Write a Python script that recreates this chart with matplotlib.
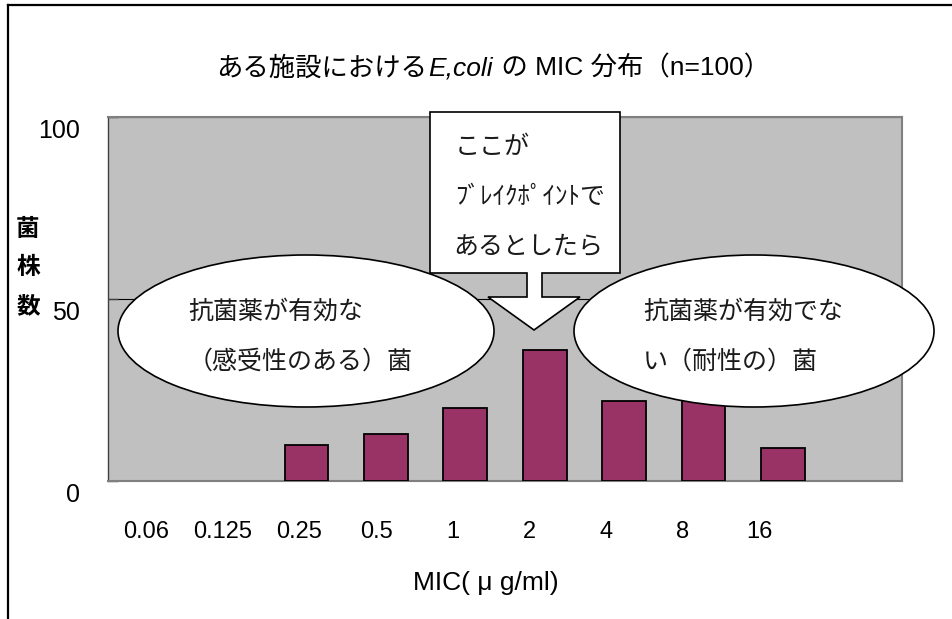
import matplotlib.pyplot as plt
import numpy as np
from matplotlib.lines import Line2D
from matplotlib.offsetbox import AnnotationBbox, HPacker, TextArea
from matplotlib.patches import Ellipse, Polygon
from matplotlib.transforms import ScaledTranslation

# データ (MIC ごとの菌株数)
mic_labels = ["0.06", "0.125", "0.25", "0.5", "1", "2", "4", "8", "16", ""]
counts = [0, 0, 10, 13, 20, 36, 22, 24, 9, 0]
y_ticks = [0, 50, 100]

W, H = 952, 619
JP = ["Liberation Sans", "Noto Sans CJK JP"]
plt.rcParams["font.family"] = JP
TXT = "#1a1a1a"


def fx(x):
    return x / W


def fy(y):
    return 1 - y / H


fig = plt.figure(figsize=(W / 100, H / 100), dpi=100)

# --- グラフ本体 ---
ax = fig.add_axes([fx(108), fy(481), (902 - 108) / W, (481 - 117) / H])
ax.set_facecolor("#c0c0c0")
x = np.arange(len(counts))
# 0 件の棒は枠線も描かない
edge_w = [1.3 if c > 0 else 0 for c in counts]
ax.bar(x, counts, width=0.55, color="#993366", edgecolor="black",
       linewidth=edge_w, zorder=3)
ax.set_xlim(-0.5, len(counts) - 0.5)
ax.set_ylim(0, 100)
ax.grid(axis="y", color="black", linewidth=0.8, zorder=1)
ax.set_axisbelow(True)

for side in ["top", "right", "bottom"]:
    ax.spines[side].set_color("#808080")
    ax.spines[side].set_linewidth(1.5)
ax.spines["left"].set_color("#404040")
ax.spines["left"].set_linewidth(1.0)

# y 軸: 目盛りラベルは線の少し下
ax.set_yticks(y_ticks)
ax.set_yticklabels([str(v) for v in y_ticks])
ax.tick_params(axis="y", direction="in", length=7, width=1, color="#404040",
               pad=20, labelsize=18, labelcolor="black")
shift = ScaledTranslation(0, -0.11, fig.dpi_scale_trans)
for t in ax.yaxis.get_major_ticks():
    t.label1.set_transform(t.label1.get_transform() + shift)

# x 軸: ラベルは棒より少し詰まった間隔で並んでいる
n_lab = len([m for m in mic_labels if m])
label_pos = np.arange(n_lab) * 0.966 - 0.02
ax.set_xticks(label_pos)
ax.set_xticklabels(mic_labels[:n_lab])
ax.tick_params(axis="x", length=0, pad=29, labelsize=17, labelcolor="black")

# --- 外枠 (上と左だけ見えている) ---
fig.add_artist(Line2D([fx(8), fx(8)], [fy(5), 0], color="black", lw=1.6))
fig.add_artist(Line2D([fx(8), 1], [fy(5), fy(5)], color="black", lw=1.6))

# --- タイトル ---
tp = dict(fontsize=19, family=JP, color="black")
title_box = HPacker(
    children=[
        TextArea("ある施設における", textprops=tp),
        TextArea("E,coli", textprops=dict(fontsize=19, family="Liberation Sans",
                                          style="italic", color="black")),
        TextArea(" の MIC 分布（n=100）", textprops=tp),
    ],
    align="baseline", pad=0, sep=1,
)
fig.add_artist(AnnotationBbox(title_box, (fx(216), fy(68)),
                              xycoords="figure fraction", box_alignment=(0, 0.5),
                              frameon=False))

# --- 軸ラベル ---
fig.text(fx(28), fy(268), "菌\n株\n数", ha="center", va="center",
         fontsize=17, fontweight="bold", linespacing=1.85, color="black")
fig.text(fx(486), fy(583), "MIC( μ g/ml)", ha="center", va="center",
         fontsize=19, color="black")

# --- 吹き出し (楕円) ---
for cx, cy, w, h in [(306, 331, 376, 152), (754, 331, 360, 152)]:
    fig.add_artist(Ellipse((fx(cx), fy(cy)), w / W, h / H,
                           transform=fig.transFigure, facecolor="white",
                           edgecolor="black", lw=1.2, zorder=5))

fig.text(fx(188), fy(312), "抗菌薬が有効な", fontsize=18, color=TXT,
         va="center", zorder=6)
fig.text(fx(188), fy(362), "（感受性のある）菌", fontsize=18, color=TXT,
         va="center", zorder=6)
fig.text(fx(643), fy(312), "抗菌薬が有効でな", fontsize=18, color=TXT,
         va="center", zorder=6)
fig.text(fx(643), fy(362), "い（耐性の）菌", fontsize=18, color=TXT,
         va="center", zorder=6)

# --- 矢印付きの四角い吹き出し ---
callout = [(430, 112), (620, 112), (620, 273), (542, 273), (542, 297),
           (580, 297), (534, 330), (488, 297), (527, 297), (527, 273),
           (430, 273)]
fig.add_artist(Polygon([(fx(a), fy(b)) for a, b in callout], closed=True,
                       transform=fig.transFigure, facecolor="white",
                       edgecolor="black", lw=1.2, zorder=5))
fig.text(fx(455), fy(147), "ここが", fontsize=18, color=TXT, va="center", zorder=6)
fig.text(fx(455), fy(197), "ﾌﾞﾚｲｸﾎﾟｲﾝﾄで", fontsize=18, color=TXT,
         va="center", zorder=6)
fig.text(fx(453), fy(247), "あるとしたら", fontsize=18, color=TXT,
         va="center", zorder=6)

fig.savefig("out.png", dpi=100)
